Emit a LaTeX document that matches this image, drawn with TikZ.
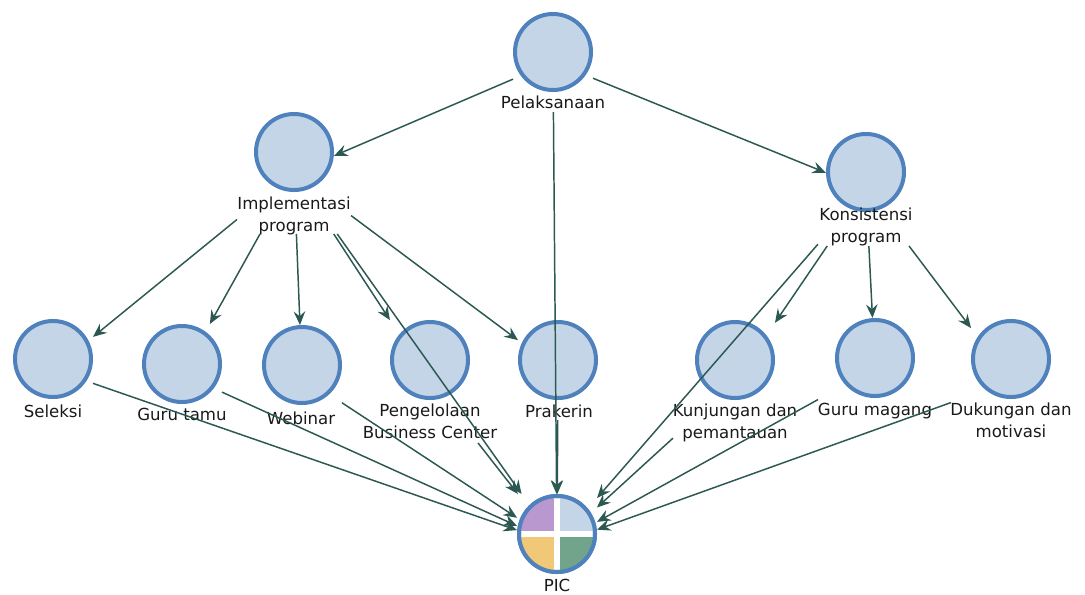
\documentclass[tikz,border=0pt]{standalone}
\usepackage{fontspec}
\setmainfont{DejaVu Sans}
\usetikzlibrary{arrows.meta}
\definecolor{ringc}{HTML}{4F81BD}
\definecolor{discc}{HTML}{C5D5E8}
\definecolor{linkc}{HTML}{2C5852}
\definecolor{qpurple}{HTML}{B898CE}
\definecolor{qblue}{HTML}{C5D5E8}
\definecolor{qyellow}{HTML}{F0C878}
\definecolor{qgreen}{HTML}{72A38B}
\begin{document}
\begin{tikzpicture}[x=0.025cm, y=-0.025cm,
  disk/.style={circle, draw=ringc, fill=discc, line width=0.1cm, minimum size=1.9cm, inner sep=0pt},
  lbl/.style={anchor=base, align=center, inner sep=0pt, font=\fontsize{11.8}{15}\selectfont, text=black!90},
  arc/.style={draw=linkc, line width=1.05pt, -{Stealth[length=3.4mm, width=2.9mm, inset=1.2mm]}},
  ends/.style 2 args={shorten <=#1, shorten >=#2}]
\useasboundingbox (0,0) rectangle (1085,594);

% top level
\node[disk] (pelc) at (553,52) {};
\node[lbl] (pell) at (553,108) {Pelaksanaan};
\coordinate (pel) at (553,62);

% second level (two-line labels sit on the baseline of their last line)
\node[disk] (impc) at (294,152) {};
\node[lbl] (impl) at (294,231) {Implementasi\\program};
\coordinate (imp) at (294,173);

\node[disk] (konc) at (866,172) {};
\node[lbl] (konl) at (866,242) {Konsistensi\\program};
\coordinate (kon) at (866,189);

% third level
\node[disk] (selc) at (53,359) {};
\node[lbl] (sell) at (53,417) {Seleksi};
\coordinate (sel) at (53,369.5);

\node[disk] (gtc) at (182,364) {};
\node[lbl] (gtl) at (182,420) {Guru tamu};
\coordinate (gt) at (182,374);

\node[disk] (webc) at (302,365) {};
\node[lbl] (webl) at (301,424) {Webinar};
\coordinate (web) at (302,376.5);

\node[disk] (pengc) at (430,360) {};
\node[lbl] (pengl) at (430,438) {Pengelolaan\\Business Center};
\coordinate (peng) at (430,381.5);

\node[disk] (prakc) at (558,360) {};
\node[lbl] (prakl) at (559,417) {Prakerin};
\coordinate (prak) at (558,370);

\node[disk] (kunjc) at (735,360) {};
\node[lbl] (kunjl) at (735,438) {Kunjungan dan\\pemantauan};
\coordinate (kunj) at (735,381.5);

\node[disk] (gmc) at (875,358) {};
\node[lbl] (gml) at (875,415) {Guru magang};
\coordinate (gm) at (875,368);

\node[disk] (dukc) at (1011,359) {};
\node[lbl] (dukl) at (1011,437) {Dukungan dan\\motivasi};
\coordinate (duk) at (1011,381);

% PIC: quartered disc
\node[disk, fill=white] (picc) at (557,534) {};
\begin{scope}
  \clip (picc.center) circle (0.93cm);
  \fill[qpurple] (515,492) rectangle (554,531);
  \fill[qblue]   (560,492) rectangle (599,531);
  \fill[qyellow] (515,537) rectangle (554,576);
  \fill[qgreen]  (560,537) rectangle (599,576);
\end{scope}
\draw[draw=ringc, line width=0.1cm] (picc.center) circle (0.95cm);
\node[lbl] (picl) at (557,591) {PIC};
\coordinate (pic) at (557,544);

% connectors
\draw[arc, ends={1.088cm}{1.088cm}] (pel) -- (imp);
\draw[arc, ends={1.080cm}{1.080cm}] (pel) -- (kon);
\draw[arc, ends={1.250cm}{1.250cm}] (pel) -- (pic);

\draw[arc, ends={1.838cm}{1.290cm}] (imp) -- (sel);
\draw[arc, ends={1.745cm}{1.430cm}] (imp) -- (gt);
\draw[arc, ends={1.525cm}{1.288cm}] (imp) -- (web);
\draw[arc, ends={1.820cm}{1.833cm}] (imp) -- (peng);
\draw[arc, ends={1.780cm}{1.248cm}] (imp) -- (prak);
\draw[arc, ends={1.870cm}{1.533cm}] (imp) -- (pic);

\draw[arc, ends={1.723cm}{1.775cm}] (kon) -- (kunj);
\draw[arc, ends={1.428cm}{1.253cm}] (kon) -- (gm);
\draw[arc, ends={1.785cm}{1.658cm}] (kon) -- (duk);
\draw[arc, ends={1.830cm}{1.525cm}] (kon) -- (pic);

\draw[arc, ends={1.058cm}{1.058cm}] (sel) -- (pic);
\draw[arc, ends={1.098cm}{1.098cm}] (gt) -- (pic);
\draw[arc, ends={1.195cm}{1.195cm}] (web) -- (pic);
\draw[arc, ends={1.950cm}{1.588cm}] (peng) -- (pic);
\draw[arc, ends={1.250cm}{1.250cm}] (prak) -- (pic);
\draw[arc, ends={2.098cm}{1.353cm}] (kunj) -- (pic);
\draw[arc, ends={1.628cm}{1.143cm}] (gm) -- (pic);
\draw[arc, ends={1.595cm}{1.063cm}] (duk) -- (pic);
\end{tikzpicture}
\end{document}
